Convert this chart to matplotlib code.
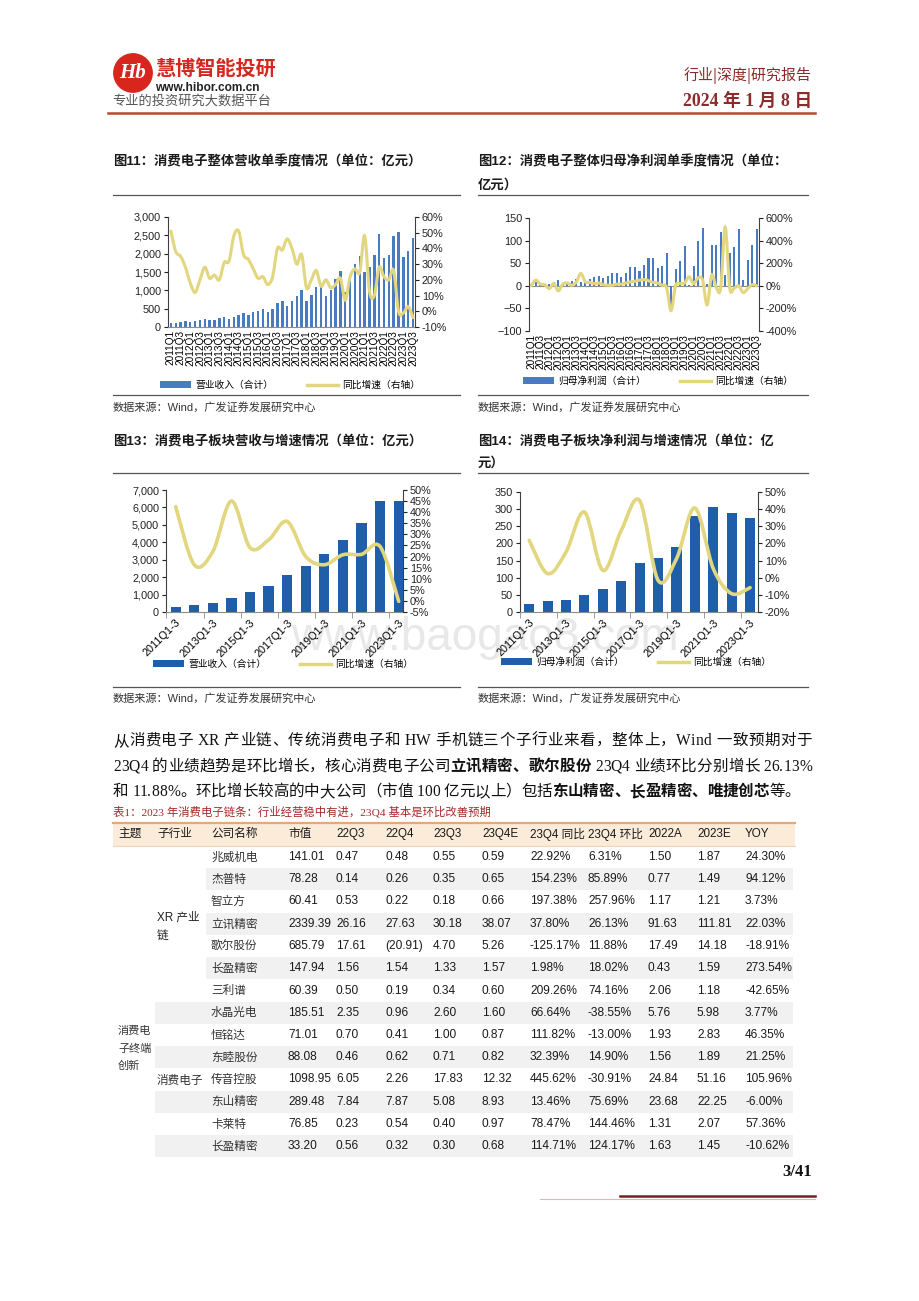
import numpy as np
import matplotlib
matplotlib.use("Agg")
import matplotlib.pyplot as plt
import matplotlib.ticker as mticker
from matplotlib.patches import Circle, PathPatch, Patch, Rectangle
from matplotlib.lines import Line2D
from matplotlib.path import Path

# ── Fonts ────────────────────────────────────────────────────────────────────
SANS = ["Liberation Sans", "Noto Sans CJK SC", "DejaVu Sans"]
SERIF = ["Liberation Serif", "Noto Sans CJK SC", "DejaVu Sans"]
CJK = ["Noto Sans CJK SC", "DejaVu Sans"]
plt.rcParams["font.family"] = SANS

# ── Data ─────────────────────────────────────────────────────────────────────
quarters = [f"{y}Q{q}" for y in range(2011, 2024) for q in range(1, 5)][:51]
years_q13 = [f"{y}Q1-3" for y in range(2011, 2024)]

# Fig 11: quarterly revenue (亿元) and YoY (%)
rev_q = [100, 120, 150, 170, 150, 160, 200, 230, 180, 200, 250, 280,
         210, 280, 330, 380, 330, 400, 440, 500, 400, 500, 650, 720,
         580, 700, 850, 1000, 700, 880, 1080, 1150, 850, 1000, 1300, 1520,
         950, 1250, 1730, 1950, 1500, 1650, 1970, 2540, 1880, 1960, 2490, 2580,
         1900, 2060, 2440]
rev_q_yoy = [51, 38, 35, 28, 18, 12, 20, 28, 21, 23, 20, 31,
             32, 48, 51, 36, 33, 27, 21, 22, 17, 22, 40, 39,
             46, 40, 30, 36, 15, 20, 26, 16, 20, 15, 17, 21,
             7, 22, 27, 25, 48, 13, 10, 28, 22, 20, 26, 0,
             -1, 3, -4]

# Fig 12: quarterly net profit (亿元) and YoY (%)
np_q = [5, 9, 7, 3, 5, 8, 13, 6, 6, 11, 15, 9,
        10, 16, 19, 21, 18, 21, 28, 28, 20, 29, 41, 41,
        33, 47, 62, 62, 40, 44, 72, -52, 37, 54, 88, 2,
        44, 100, 128, 3, 90, 90, 120, 25, 73, 85, 126, 13,
        56, 91, 126]
np_q_yoy = [0, 50, 15, 10, -25, 20, -45, 15, 25, 5, 35, 110,
            35, 30, 20, 25, 10, 5, 5, 15, 15, 25, 35, 40,
            50, 55, 45, 30, 25, 5, -15, -220, 0, 20, 25, 80,
            20, 70, 50, -170, 95, -10, -20, 520, -15, -20, 0, -60,
            -25, 10, 0]

# Fig 13: Q1-3 revenue (亿元) and YoY (%)
rev_y = [267, 420, 534, 800, 1144, 1487, 2117, 2632, 3318, 4118, 5110, 6390, 6370]
rev_y_yoy = [42.5, 16.3, 22.3, 45, 24, 27.5, 35.8, 20, 16.3, 20.8, 21, 24.5, -0.2]

# Fig 14: Q1-3 net profit (亿元) and YoY (%)
np_y = [22, 32, 35, 49, 68, 91, 144, 158, 189, 280, 306, 290, 273]
np_y_yoy = [21.8, 2.4, 15, 38.3, 4.3, 27.6, 45, -1.5, 11, 40.7, 5.3, -9.3, -5.8]

# Table 1
tbl_header = ["主题", "子行业", "公司名称", "市值", "22Q3", "22Q4", "23Q3", "23Q4E",
              "23Q4 同比", "23Q4 环比", "2022A", "2023E", "YOY"]
companies = ["兆威机电", "杰普特", "智立方", "立讯精密", "歌尔股份", "长盈精密", "三利谱",
             "水晶光电", "恒铭达", "东睦股份", "传音控股", "东山精密", "卡莱特", "长盈精密"]
mcap = ["141.01", "78.28", "60.41", "2339.39", "685.79", "147.94", "60.39",
        "185.51", "71.01", "88.08", "1098.95", "289.48", "76.85", "33.20"]
p22q3 = ["0.47", "0.14", "0.53", "26.16", "17.61", "1.56", "0.50",
         "2.35", "0.70", "0.46", "6.05", "7.84", "0.23", "0.56"]
p22q4 = ["0.48", "0.26", "0.22", "27.63", "(20.91)", "1.54", "0.19",
         "0.96", "0.41", "0.62", "2.26", "7.87", "0.54", "0.32"]
p23q3 = ["0.55", "0.35", "0.18", "30.18", "4.70", "1.33", "0.34",
         "2.60", "1.00", "0.71", "17.83", "5.08", "0.40", "0.30"]
p23q4e = ["0.59", "0.65", "0.66", "38.07", "5.26", "1.57", "0.60",
          "1.60", "0.87", "0.82", "12.32", "8.93", "0.97", "0.68"]
yoy_q4 = ["22.92%", "154.23%", "197.38%", "37.80%", "-125.17%", "1.98%", "209.26%",
          "66.64%", "111.82%", "32.39%", "445.62%", "13.46%", "78.47%", "114.71%"]
qoq_q4 = ["6.31%", "85.89%", "257.96%", "26.13%", "11.88%", "18.02%", "74.16%",
          "-38.55%", "-13.00%", "14.90%", "-30.91%", "75.69%", "144.46%", "124.17%"]
p2022a = ["1.50", "0.77", "1.17", "91.63", "17.49", "0.43", "2.06",
          "5.76", "1.93", "1.56", "24.84", "23.68", "1.31", "1.63"]
p2023e = ["1.87", "1.49", "1.21", "111.81", "14.18", "1.59", "1.18",
          "5.98", "2.83", "1.89", "51.16", "22.25", "2.07", "1.45"]
yoy_23 = ["24.30%", "94.12%", "3.73%", "22.03%", "-18.91%", "273.54%", "-42.65%",
          "3.77%", "46.35%", "21.25%", "105.96%", "-6.00%", "57.36%", "-10.62%"]

# ── Colours ──────────────────────────────────────────────────────────────────
RED = "#D7261E"
MAROON = "#8B2B2B"
BAR_LIGHT = "#4A7BC0"
BAR_DARK = "#1F5EA8"
YELLOW = "#E2D67E"
AXIS = "#404040"

# ── Page helpers (pixel coords, y from top) ─────────────────────────────────
W, H = 920, 1301
fig = plt.figure(figsize=(W / 100, H / 100), dpi=100)
fig.patch.set_facecolor("white")
renderer = fig.canvas.get_renderer()


def fx(x):
    return x / W


def fy(y):
    return 1 - y / H


def text(x, y, s, size, **kw):
    kw.setdefault("va", "center")
    return fig.text(fx(x), fy(y), s, fontsize=size, **kw)


def hline(x0, x1, y, color, lw):
    fig.add_artist(Line2D([fx(x0), fx(x1)], [fy(y), fy(y)], color=color, lw=lw))


def rect(x0, y0, x1, y1, color):
    fig.add_artist(Rectangle((fx(x0), fy(y1)), (x1 - x0) / W, (y1 - y0) / H,
                             transform=fig.transFigure, color=color, lw=0, zorder=0.5))


def axes_px(l, t, r, b):
    ax = fig.add_axes([fx(l), fy(b), (r - l) / W, (b - t) / H])
    ax.patch.set_visible(False)
    return ax


def smooth_line(ax, x, y, **kw):
    """Excel-style smoothed line (Catmull-Rom rendered as Bezier curves)."""
    x = np.asarray(x, float)
    y = np.asarray(y, float)
    n = len(x)
    verts, codes = [(x[0], y[0])], [Path.MOVETO]
    for i in range(n - 1):
        p0 = (x[i - 1], y[i - 1]) if i > 0 else (x[i], y[i])
        p3 = (x[i + 2], y[i + 2]) if i + 2 < n else (x[i + 1], y[i + 1])
        c1 = (x[i] + (x[i + 1] - p0[0]) / 6, y[i] + (y[i + 1] - p0[1]) / 6)
        c2 = (x[i + 1] - (p3[0] - x[i]) / 6, y[i + 1] - (p3[1] - y[i]) / 6)
        verts += [c1, c2, (x[i + 1], y[i + 1])]
        codes += [Path.CURVE4] * 3
    ax.add_patch(PathPatch(Path(verts, codes), fill=False, capstyle="round", **kw))


def dual_chart(box, cats, bars, growth, ylim, yticks, rlim, rticks, xlim,
               bar_w, bar_c, line_w, tick_step, rot, leg_xy, bar_label,
               comma=True, zero_line=False):
    ax = axes_px(*box)
    x = np.arange(len(cats))
    ax.bar(x, bars, width=bar_w, color=bar_c, zorder=2)
    ax.set_xlim(*xlim)
    ax.set_ylim(*ylim)
    ax.set_yticks(yticks)
    if comma:
        ax.yaxis.set_major_formatter(mticker.FuncFormatter(lambda v, _: f"{v:,.0f}"))
    ax2 = ax.twinx()
    ax2.patch.set_visible(False)
    ax2.set_ylim(*rlim)
    ax2.set_yticks(rticks)
    ax2.yaxis.set_major_formatter(mticker.FuncFormatter(lambda v, _: f"{v:.0f}%"))
    smooth_line(ax2, x, growth, color=YELLOW, lw=line_w, zorder=3)

    for a in (ax, ax2):
        a.spines["top"].set_visible(False)
        a.tick_params(axis="y", direction="out", length=3, width=0.8,
                      labelsize=7.8, pad=2, colors="#222222")
        a.spines["left"].set_color(AXIS)
        a.spines["right"].set_color(AXIS)
    ax.spines["right"].set_visible(False)
    ax2.spines["left"].set_visible(False)
    ax2.spines["bottom"].set_visible(False)
    ax.spines["bottom"].set_color("#8C8C8C")
    if zero_line:
        ax.spines["bottom"].set_visible(False)
        ax.axhline(0, color="#8C8C8C", lw=0.8, zorder=1)

    ax.set_xticks(x[::tick_step])
    if rot == 90:
        ax.set_xticklabels(cats[::tick_step], rotation=90, fontsize=7.2,
                           va="top", ha="center")
        ax.tick_params(axis="x", length=0, pad=2)
    else:
        ax.set_xticklabels(cats[::tick_step], rotation=45, fontsize=7.8,
                           ha="right", va="top", rotation_mode="anchor")
        ax.tick_params(axis="x", length=0, pad=4)
        ax.set_xticks(np.arange(-0.5, len(cats), 2), minor=True)
        ax.tick_params(axis="x", which="minor", length=4, color="#8C8C8C")

    handles = [Patch(facecolor=bar_c), Line2D([], [], color=YELLOW, lw=2.5)]
    ax.legend(handles, [bar_label, "同比增速（右轴）"], ncol=2, loc="center",
              bbox_to_anchor=(fx(leg_xy[0]), fy(leg_xy[1])),
              bbox_transform=fig.transFigure, frameon=False,
              prop={"family": CJK, "size": 7}, handlelength=3.2, handleheight=0.6,
              columnspacing=3.5, handletextpad=0.4)
    return ax


def text_width(s, size, weight):
    t = fig.text(0, 0, s, fontsize=size, fontweight=weight, family=SERIF)
    w = t.get_window_extent(renderer=renderer).width
    t.remove()
    return w


def para_line(y, parts, x0, x1, size, justify):
    """Draw one body line glyph by glyph; spread it to x1 when justified."""
    glyphs = []  # (char, weight, natural x)
    x = x0
    for s, bold in parts:
        weight = "bold" if bold else "normal"
        for k, c in enumerate(s):
            if c != " ":
                glyphs.append((c, weight, x + text_width(s[:k + 1], size, weight)
                               - text_width(c, size, weight)))
        x += text_width(s, size, weight)
    last_c, last_w, last_x = glyphs[-1]
    natural_end = last_x + text_width(last_c, size, last_w)
    extra = (x1 - natural_end) / (len(glyphs) - 1) if justify else 0
    for i, (c, weight, gx) in enumerate(glyphs):
        text(gx + i * extra, y, c, size, family=SERIF, color="#111111", fontweight=weight)


# ── Header ───────────────────────────────────────────────────────────────────
logo = axes_px(113, 53, 153, 93)
logo.set_xlim(0, 1)
logo.set_ylim(0, 1)
logo.axis("off")
logo.add_patch(Circle((0.5, 0.5), 0.48, color=RED))
logo.text(0.5, 0.5, "Hb", color="white", fontsize=15, fontweight="bold",
          style="italic", ha="center", va="center", family="Liberation Serif")

text(155, 68, "慧博智能投研", 14.5, color=RED, fontweight="bold", family=CJK)
text(155, 88, "www.hibor.com.cn", 8.6, color="#222222", fontweight="bold")
text(112, 101, "专业的投资研究大数据平台", 9.5, color="#555555", family=CJK)
text(812, 75, "行业|深度|研究报告", 10.8, color=MAROON, family=CJK, ha="right")
text(812, 101, "2024 年 1 月 8 日", 12.8, color=MAROON, family=SERIF,
     fontweight="bold", ha="right")
hline(108, 815, 113, "#B9482E", 1.8)

# ── Chart frames and captions ────────────────────────────────────────────────
TITLE = dict(fontweight="bold", color="#1A1A1A", family=SANS)
SRC = dict(color="#333333", family=SANS)
SOURCE = "数据来源：Wind，广发证券发展研究中心"

text(113, 162, "图11：消费电子整体营收单季度情况（单位：亿元）", 9.6, **TITLE)
text(478, 162, "图12：消费电子整体归母净利润单季度情况（单位：", 9.6, **TITLE)
text(478, 185, "亿元）", 9.6, **TITLE)
text(113, 441, "图13：消费电子板块营收与增速情况（单位：亿元）", 9.6, **TITLE)
text(478, 442, "图14：消费电子板块净利润与增速情况（单位：亿", 9.6, **TITLE)
text(478, 463, "元）", 9.6, **TITLE)

for x0, x1 in ((113, 460), (478, 808)):
    hline(x0, x1, 195, "#555555", 0.9)
    hline(x0, x1, 395, "#555555", 0.9)
    hline(x0, x1, 473, "#555555", 0.9)
    hline(x0, x1, 687, "#555555", 0.9)
text(113, 407, SOURCE, 8, **SRC)
text(478, 407, SOURCE, 8, **SRC)
text(113, 698, SOURCE, 8, **SRC)
text(478, 698, SOURCE, 8, **SRC)

# ── Charts ───────────────────────────────────────────────────────────────────
dual_chart((168, 217, 415, 327), quarters, rev_q, rev_q_yoy,
           (0, 3000), range(0, 3001, 500), (-10, 60), range(-10, 61, 10),
           (-0.6, 50.4), 0.5, BAR_LIGHT, 2.2, 2, 90, (290, 385), "营业收入（合计）")

dual_chart((529, 218, 759, 331), quarters, np_q, np_q_yoy,
           (-100, 150), range(-100, 151, 50), (-400, 600), range(-400, 601, 200),
           (-0.5, 50.5), 0.45, BAR_LIGHT, 2.2, 2, 90, (658, 381), "归母净利润（合计）",
           comma=False, zero_line=True)

dual_chart((166, 490, 403, 612), years_q13, rev_y, rev_y_yoy,
           (0, 7000), range(0, 7001, 1000), (-5, 50), range(-5, 51, 5),
           (-0.52, 12.23), 0.55, BAR_DARK, 2.6, 2, 45, (283, 664), "营业收入（合计）")

dual_chart((520, 492, 758, 612), years_q13, np_y, np_y_yoy,
           (0, 350), range(0, 351, 50), (-20, 50), range(-20, 51, 10),
           (-0.49, 12.43), 0.55, BAR_DARK, 2.6, 2, 45, (636, 662), "归母净利润（合计）",
           comma=False)

# watermark (behind everything)
fig.text(fx(485), fy(638), "www.baogao8.com", fontsize=33, color="#E8E8E8",
         ha="center", va="center", family="Liberation Sans", zorder=-5)

# ── Body paragraph ───────────────────────────────────────────────────────────
BODY = 11.2
para_line(741, [("从消费电子 XR 产业链、传统消费电子和 HW 手机链三个子行业来看，整体上，Wind 一致预期对于", False)],
          113, 812, BODY, True)
para_line(767, [("23Q4 的业绩趋势是环比增长，核心消费电子公司", False), ("立讯精密、歌尔股份", True),
                (" 23Q4 业绩环比分别增长 26.13%", False)], 113, 812, BODY, True)
para_line(792, [("和 11.88%。环比增长较高的中大公司（市值 100 亿元以上）包括", False),
                ("东山精密、长盈精密、唯捷创芯", True), ("等。", False)], 113, 812, BODY, False)

# ── Table ────────────────────────────────────────────────────────────────────
text(113, 812, "表1：2023 年消费电子链条：行业经营稳中有进，23Q4 基本是环比改善预期", 8.2,
     color="#A3282A", family=SERIF)
col_x = [118, 157, 211, 288, 336, 385, 433, 482, 530, 588, 648, 697, 745]
TL, TR = 113, 795
rect(TL, 823, TR, 846, "#FBEBD9")
hline(TL, TR, 823, "#E3A978", 1.6)
hline(TL, TR, 846, "#F1D3B6", 0.8)
for cx, h in zip(col_x, tbl_header):
    text(cx, 834, h, 8.4, color="#1A1A1A", family=SANS)

ROW0, STEP = 857, 22.25
columns = [mcap, p22q3, p22q4, p23q3, p23q4e, yoy_q4, qoq_q4, p2022a, p2023e, yoy_23]
for i, name in enumerate(companies):
    y = ROW0 + i * STEP
    if i % 2 == 1:
        rect(206 if i < 7 else 155, y - STEP / 2, 793, y + STEP / 2, "#F1F1F1")
    text(col_x[2], y, name, 8.4, color="#333333", family=CJK)
    for cx, col in zip(col_x[3:], columns):
        text(cx, y, col[i], 8.6, color="#1A1A1A", family=SANS)

text(col_x[1], 918, "XR 产业", 8.4, color="#222222", family=SANS)
text(col_x[1], 937, "链", 8.4, color="#222222", family=SANS)
text(col_x[1], 1080, "消费电子", 8.4, color="#333333", family=CJK)
for j, s in enumerate(["消费电", "子终端", "创新"]):
    text(col_x[0], 1031 + j * 17.5, s, 8, color="#333333", family=CJK)

# ── Footer ───────────────────────────────────────────────────────────────────
text(812, 1172, "3/41", 12, color="#111111", family=SERIF, fontweight="bold", ha="right")
hline(540, 815, 1199, "#DDB8B8", 0.8)
hline(620, 815, 1196, "#7A1F1F", 1.8)

fig.savefig("out.png", dpi=100, facecolor="white")
